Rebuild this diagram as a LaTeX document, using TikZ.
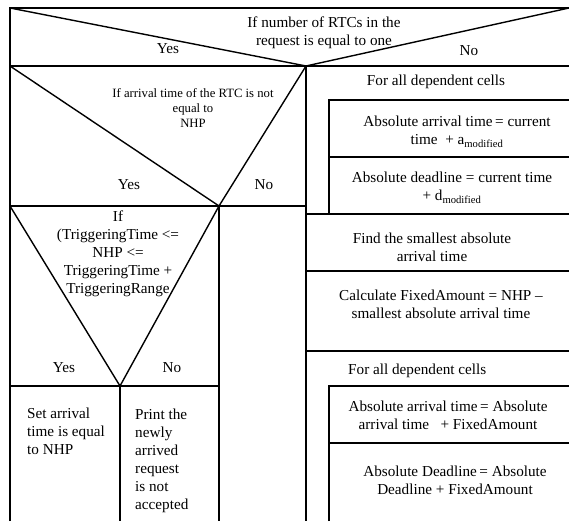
\documentclass[tikz,border=0pt]{standalone}
\usepackage{fontspec}
\setmainfont{Liberation Serif}
\usetikzlibrary{positioning}

\begin{document}
\begin{tikzpicture}[
    x=1pt, y=-1pt,
    line/.style={line width=1.4pt},
    txt/.style={font=\fontsize{15.2}{18}\selectfont, align=center, inner sep=0pt},
    small/.style={font=\fontsize{12.7}{15}\selectfont, align=center, inner sep=0pt},
    body/.style={txt, align=left, anchor=north west}
  ]
  \useasboundingbox (0,0) rectangle (569,521);

  % Apex points of the three decisions
  \coordinate (apexA) at (306,66);
  \coordinate (apexB) at (219,206);
  \coordinate (apexC) at (120,386);

  % Outer frame and first decision
  \draw[line] (10,521) -- (10,8) -- (569,8);
  \draw[line] (10,66) -- (569,66);
  \draw[line] (10,8) -- (apexA) -- (569,8);
  \draw[line] (apexA) -- (306,521);

  % Second decision (left branch)
  \draw[line] (10,66) -- (apexB) -- (apexA);
  \draw[line] (10,206) -- (306,206);
  \draw[line] (apexB) -- (219,521);

  % Third decision
  \draw[line] (10,206) -- (apexC) -- (apexB);
  \draw[line] (10,386) -- (219,386);
  \draw[line] (apexC) -- (120,521);

  % Right branch: first loop
  \draw[line] (329,214) -- (329,100) -- (569,100);
  \draw[line] (329,157) -- (569,157);
  \draw[line] (306,214) -- (569,214);
  \draw[line] (306,271) -- (569,271);
  \draw[line] (306,351) -- (569,351);

  % Right branch: second loop
  \draw[line] (329,521) -- (329,386) -- (569,386);
  \draw[line] (329,443) -- (569,443);

  % Labels of first decision
  \node[txt] (cond1) at (324,33) {If number of RTCs in the\\request is equal to one};
  \node[txt] (yes1) at (168,49) {Yes};
  \node[txt] (no1) at (469,51) {No};

  % Labels of second decision
  \node[small] (cond2) at (193,108) {If arrival time of the RTC is not\\equal to\\NHP};
  \node[txt] (yes2) at (129,185) {Yes};
  \node[txt] (no2) at (264,185) {No};

  % Labels of third decision
  \node[txt] (cond3) at (118,254) {If\\(TriggeringTime <=\\NHP <=\\TriggeringTime +\\TriggeringRange};
  \node[txt] (yes3) at (64,368) {Yes};
  \node[txt] (no3) at (172,368) {No};

  % Actions of third decision
  \node[body] (setArr) at (27,408) {Set arrival\\time is equal\\to NHP};
  \node[body] (printRej) at (135,409) {Print the\\newly\\arrived\\request\\is not\\accepted};

  % Right branch texts
  \node[txt] (loop1) at (436,82) {For all dependent cells};
  \node[txt] (absArr1) at (457,132) {Absolute arrival time\,= current\\time \ + a\textsubscript{modified}};
  \node[txt] (absDl1) at (452,188) {Absolute deadline = current time\\+ d\textsubscript{modified}};
  \node[txt] (findMin) at (432,247) {Find the smallest absolute\\arrival time};
  \node[txt] (calcFix) at (441,304) {Calculate FixedAmount = NHP --\\smallest absolute arrival time};
  \node[txt, anchor=west] (loop2) at (348,371) {For all dependent cells};
  \node[txt] (absArr2) at (448,415) {Absolute arrival time\,= Absolute\\arrival time \ \ + FixedAmount};
  \node[txt] (absDl2) at (455,480) {Absolute Deadline\,= Absolute\\Deadline + FixedAmount};
\end{tikzpicture}
\end{document}
